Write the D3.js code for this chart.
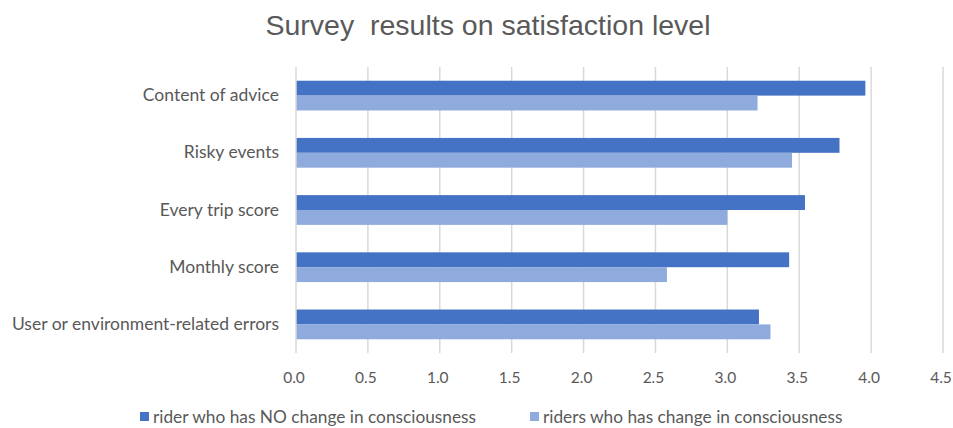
<!DOCTYPE html>
<html>
<head>
<meta charset="utf-8">
<script src="https://cdn.jsdelivr.net/npm/d3@7"></script>
<style>
  html, body { margin: 0; padding: 0; background: #fff; }
  svg { display: block; }
  text { fill: #595959; }
</style>
</head>
<body>
<svg id="chart" width="953" height="428"></svg>
<script>
const categories = [
  "Content of advice",
  "Risky events",
  "Every trip score",
  "Monthly score",
  "User or environment-related errors"
];
const seriesNames = [
  "rider who has NO change in consciousness",
  "riders who has change in consciousness"
];
const noChange = [3.96, 3.78, 3.54, 3.43, 3.22];
const withChange = [3.21, 3.45, 3.00, 2.58, 3.30];
const xTicks = [0, 0.5, 1, 1.5, 2, 2.5, 3, 3.5, 4, 4.5];
const colors = ["#4472C4", "#8FAADC"];

const svg = d3.select("#chart");
const labelFont = "Lato, 'Open Sans', sans-serif";

const x = d3.scaleLinear().domain([0, 4.5]).range([296, 943]);
const y = d3.scaleBand().domain(categories).range([67, 353]).paddingInner(0.48).paddingOuter(0.24);
const ySub = d3.scaleBand().domain([0, 1]).range([0, y.bandwidth()]);

// title
svg.append("text")
  .attr("x", 488).attr("y", 35)
  .attr("text-anchor", "middle")
  .style("font-family", "'Liberation Sans', Arial, sans-serif")
  .style("font-size", "28.5px")
  .style("white-space", "pre")
  .text("Survey  results on satisfaction level");

// vertical grid lines
svg.append("g")
  .selectAll("line")
  .data(xTicks.slice(1))
  .join("line")
  .attr("x1", d => x(d)).attr("x2", d => x(d))
  .attr("y1", 67).attr("y2", 353)
  .attr("stroke", "#d9d9d9").attr("stroke-width", 1.5);

// x axis labels
const xAxis = d3.axisBottom(x).tickValues(xTicks).tickFormat(d3.format(".1f")).tickSize(0).tickPadding(19);
const gx = svg.append("g").attr("transform", "translate(0,353)").call(xAxis);
gx.select(".domain").remove();
gx.selectAll("text")
  .attr("dx", -2.5)
  .style("font-family", labelFont)
  .style("font-size", "15.5px")
  .attr("fill", "#595959");

// bars
const rows = categories.map((c, i) => ({ c, vals: [noChange[i], withChange[i]] }));
const g = svg.append("g");
rows.forEach(r => {
  r.vals.forEach((v, k) => {
    g.append("rect")
      .attr("x", x(0))
      .attr("y", y(r.c) + ySub(k))
      .attr("width", x(v) - x(0))
      .attr("height", ySub.bandwidth())
      .attr("fill", colors[k]);
  });
});

// left axis line
svg.append("line")
  .attr("x1", x(0)).attr("x2", x(0))
  .attr("y1", 67).attr("y2", 353)
  .attr("stroke", "#d9d9d9").attr("stroke-width", 1.5);

// category labels
const yAxis = d3.axisLeft(y).tickSize(0).tickPadding(17);
const gy = svg.append("g").attr("transform", `translate(${x(0)},0)`).call(yAxis);
gy.select(".domain").remove();
gy.selectAll("text")
  .style("font-family", labelFont)
  .style("font-size", "17.5px")
  .attr("fill", "#595959");

// legend
const legendX = [140, 530];
const lg = svg.append("g");
seriesNames.forEach((name, k) => {
  lg.append("rect")
    .attr("x", legendX[k]).attr("y", 412)
    .attr("width", 9).attr("height", 9)
    .attr("fill", colors[k]);
  lg.append("text")
    .attr("x", legendX[k] + 13).attr("y", 423)
    .style("font-family", labelFont)
    .style("font-size", "17.3px")
    .text(name);
});
</script>
</body>
</html>
